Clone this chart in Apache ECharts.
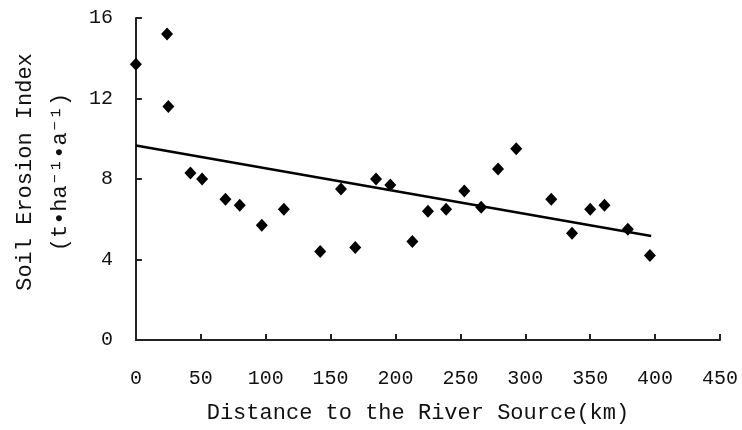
<!DOCTYPE html>
<html lang="en">
<head>
    <meta charset="UTF-8">
    <title>soil erosion</title>
    <script src="https://cdn.jsdelivr.net/npm/echarts@6/dist/echarts.min.js"></script>
    <style type="text/css">
        body {
            margin: 0;
            padding: 0;
            background: #fff;
        }

        #chart {
            width: 742px;
            height: 430px;
        }
    </style>
</head>
<body>
<div id="chart"></div>

<script>
    // distance to river source (km) and soil erosion index
    var distance = [0, 24, 25, 42, 51, 69, 80, 97, 114, 142, 158, 169, 185, 196, 213, 225, 239, 253, 266, 279, 293, 320, 336, 350, 361, 379, 396];
    var erosion = [13.7, 15.2, 11.6, 8.3, 8.0, 7.0, 6.7, 5.7, 6.5, 4.4, 7.5, 4.6, 8.0, 7.7, 4.9, 6.4, 6.5, 7.4, 6.6, 8.5, 9.5, 7.0, 5.3, 6.5, 6.7, 5.5, 4.2];
    // trend line ends
    var trendX = [0, 397];
    var trendY = [9.66, 5.17];

    var xTicks = [0, 50, 100, 150, 200, 250, 300, 350, 400, 450];
    var yTicks = [0, 4, 8, 12, 16];

    var font = "'Liberation Mono', 'DejaVu Sans Mono', monospace";
    var axisColor = '#222';

    var chart = echarts.init(document.getElementById('chart'));
    chart.setOption({
        animation: false,
        backgroundColor: '#fff',
        grid: {
            left: 135,
            right: 22,
            top: 18,
            bottom: 90
        },
        xAxis: {
            type: 'value',
            min: xTicks[0],
            max: xTicks[xTicks.length - 1],
            interval: 50,
            name: 'Distance to the River Source(km)',
            nameLocation: 'middle',
            nameGap: 62,
            nameTextStyle: {
                fontFamily: font,
                fontSize: 22,
                color: '#111',
                padding: [0, 20, 0, 0]
            },
            axisLine: { lineStyle: { color: axisColor, width: 2 } },
            axisTick: { inside: true, length: 6, lineStyle: { color: axisColor, width: 2 } },
            axisLabel: {
                margin: 29,
                fontFamily: font,
                fontSize: 20,
                color: '#111'
            },
            splitLine: { show: false }
        },
        yAxis: {
            type: 'value',
            min: yTicks[0],
            max: yTicks[yTicks.length - 1],
            interval: 4,
            name: 'Soil Erosion Index\n(t\u2022ha\u207b\u00b9\u2022a\u207b\u00b9)',
            nameLocation: 'middle',
            nameGap: 51,
            nameTextStyle: {
                fontFamily: font,
                fontSize: 22,
                lineHeight: 35,
                color: '#111',
                padding: [0, 0, 0, 14]
            },
            axisLine: { show: true, lineStyle: { color: axisColor, width: 2 } },
            axisTick: { show: true, inside: true, length: 6, lineStyle: { color: axisColor, width: 2 } },
            axisLabel: {
                margin: 23,
                fontFamily: font,
                fontSize: 20,
                color: '#111'
            },
            splitLine: { show: false }
        },
        series: [
            {
                type: 'scatter',
                symbol: 'diamond',
                symbolSize: [12, 13],
                itemStyle: { color: '#000', opacity: 1 },
                data: distance.map(function (d, i) { return [d, erosion[i]]; })
            },
            {
                type: 'line',
                symbol: 'none',
                lineStyle: { color: '#000', width: 2.5 },
                data: trendX.map(function (d, i) { return [d, trendY[i]]; })
            }
        ]
    });
</script>
</body>
</html>
